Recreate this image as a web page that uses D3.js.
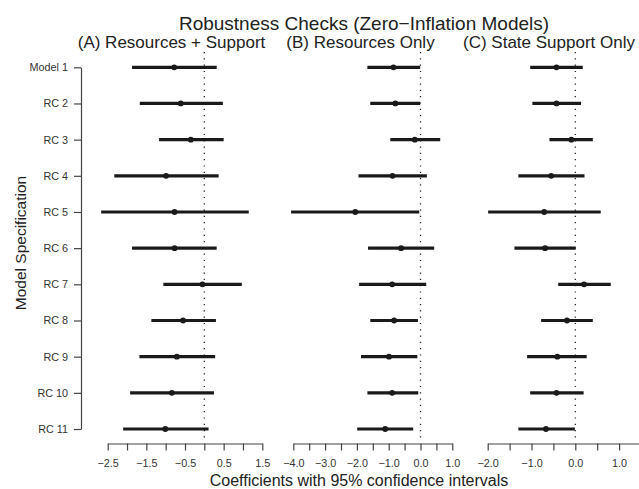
<!DOCTYPE html>
<html>
<head>
<meta charset="utf-8">
<script src="https://cdn.jsdelivr.net/npm/d3@7"></script>
<style>
  body { margin: 0; background: #fff; }
  svg text { font-family: "Liberation Sans", Arial, Helvetica, sans-serif; fill: #222; }
</style>
</head>
<body>
<svg width="639" height="489"></svg>
<script>
const models = ["Model 1", "RC 2", "RC 3", "RC 4", "RC 5", "RC 6", "RC 7", "RC 8", "RC 9", "RC 10", "RC 11"];

// (A) Resources + Support
const estA  = [-0.78, -0.61, -0.35, -0.99, -0.77, -0.77, -0.05, -0.55, -0.71, -0.84, -1.01];
const lowA  = [-1.87, -1.67, -1.17, -2.33, -2.67, -1.87, -1.06, -1.37, -1.68, -1.92, -2.10];
const highA = [0.32, 0.48, 0.50, 0.37, 1.15, 0.32, 0.97, 0.30, 0.28, 0.25, 0.11];

// (B) Resources Only
const estB  = [-0.85, -0.79, -0.18, -0.88, -2.05, -0.61, -0.89, -0.83, -0.99, -0.89, -1.11];
const lowB  = [-1.67, -1.58, -0.95, -1.95, -4.07, -1.65, -1.93, -1.58, -1.87, -1.67, -1.99];
const highB = [-0.01, -0.01, 0.62, 0.20, -0.04, 0.43, 0.18, -0.08, -0.10, -0.07, -0.23];

// (C) State Support Only
const estC  = [-0.43, -0.43, -0.09, -0.55, -0.71, -0.69, 0.20, -0.19, -0.41, -0.43, -0.67];
const lowC  = [-1.03, -0.98, -0.59, -1.30, -1.99, -1.39, -0.39, -0.78, -1.10, -1.03, -1.30];
const highC = [0.17, 0.13, 0.40, 0.21, 0.58, 0.01, 0.81, 0.40, 0.26, 0.19, -0.01];

// axis ticks
const ticksA = [-2.5, -2, -1.5, -1, -0.5, 0, 0.5, 1, 1.5];
const labelsA = [-2.5, -1.5, -0.5, 0.5, 1.5];
const ticksB = [-4, -3.5, -3, -2.5, -2, -1.5, -1, -0.5, 0, 0.5, 1];
const labelsB = [-4, -3, -2, -1, 0, 1];
const ticksC = [-2, -1.5, -1, -0.5, 0, 0.5, 1, 1.5];
const labelsC = [-2, -1, 0, 1];

const svg = d3.select("svg");
const axisY = 443.5;

const y = d3.scalePoint().domain(models).range([67.3, 429]);

const panels = [
  { title: "(A) Resources + Support", tx: 171.5, domain: [-2.5, 1.5], range: [107.7, 262.3],
    est: estA, low: lowA, high: highA, ticks: ticksA, labels: labelsA, fmt: d3.format(".1f") },
  { title: "(B) Resources Only", tx: 360.5, domain: [-4, 1], range: [293.3, 452.3],
    est: estB, low: lowB, high: highB, ticks: ticksB, labels: labelsB, fmt: d3.format(".1f") },
  { title: "(C) State Support Only", tx: 549, domain: [-2, 1.5], range: [487.7, 641],
    est: estC, low: lowC, high: highC, ticks: ticksC, labels: labelsC, fmt: d3.format(".1f") }
];

// main title
svg.append("text")
  .attr("x", 364).attr("y", 30)
  .attr("text-anchor", "middle")
  .style("font-size", "19px")
  .text("Robustness Checks (Zero\u2212Inflation Models)");

// y axis
const yAxis = svg.append("g")
  .attr("transform", "translate(81,0)")
  .call(d3.axisLeft(y).tickSize(7).tickSizeOuter(0).tickPadding(6));
yAxis.select(".domain").attr("stroke", "#444").attr("stroke-width", 1.2);
yAxis.selectAll(".tick line").attr("stroke", "#444").attr("stroke-width", 1.2);
yAxis.selectAll("text")
  .attr("font-family", null)
  .style("font-size", "10.8px")
  .style("fill", "#333");

svg.append("text")
  .attr("transform", "translate(26,243) rotate(-90)")
  .attr("text-anchor", "middle")
  .style("font-size", "15.5px")
  .text("Model Specification");

panels.forEach(p => {
  const x = d3.scaleLinear().domain(p.domain).range(p.range);
  const g = svg.append("g");

  svg.append("text")
    .attr("x", p.tx).attr("y", 48)
    .attr("text-anchor", "middle")
    .style("font-size", "17px")
    .text(p.title);

  // zero reference line
  g.append("line")
    .attr("x1", x(0)).attr("x2", x(0))
    .attr("y1", 52).attr("y2", 439)
    .attr("stroke", "#222")
    .attr("stroke-width", 1.3)
    .attr("stroke-dasharray", "1.2,5.1");

  // confidence intervals
  g.selectAll(".ci")
    .data(models)
    .enter().append("line")
    .attr("class", "ci")
    .attr("x1", (d, i) => x(p.low[i]))
    .attr("x2", (d, i) => x(p.high[i]))
    .attr("y1", d => y(d))
    .attr("y2", d => y(d))
    .attr("stroke", "#1a1a1a")
    .attr("stroke-width", 3.2);

  // point estimates
  g.selectAll(".pt")
    .data(models)
    .enter().append("circle")
    .attr("class", "pt")
    .attr("cx", (d, i) => x(p.est[i]))
    .attr("cy", d => y(d))
    .attr("r", 2.9)
    .attr("fill", "#1a1a1a");

  const xAxis = svg.append("g")
    .attr("transform", `translate(0,${axisY})`)
    .call(d3.axisBottom(x)
      .tickValues(p.ticks)
      .tickSize(7)
      .tickSizeOuter(0)
      .tickFormat(v => p.labels.some(l => Math.abs(l - v) < 1e-9) ? p.fmt(v).replace("-", "\u2212") : ""));
  xAxis.select(".domain").attr("stroke", "#444").attr("stroke-width", 1.2);
  xAxis.selectAll(".tick line").attr("stroke", "#444").attr("stroke-width", 1.2);
  xAxis.selectAll("text")
    .attr("font-family", null)
    .attr("y", 23.5).attr("dy", 0)
    .style("font-size", "10.8px")
    .style("fill", "#333");
});

svg.append("text")
  .attr("x", 359).attr("y", 486)
  .attr("text-anchor", "middle")
  .style("font-size", "16px")
  .text("Coefficients with 95% confidence intervals");
</script>
</body>
</html>
